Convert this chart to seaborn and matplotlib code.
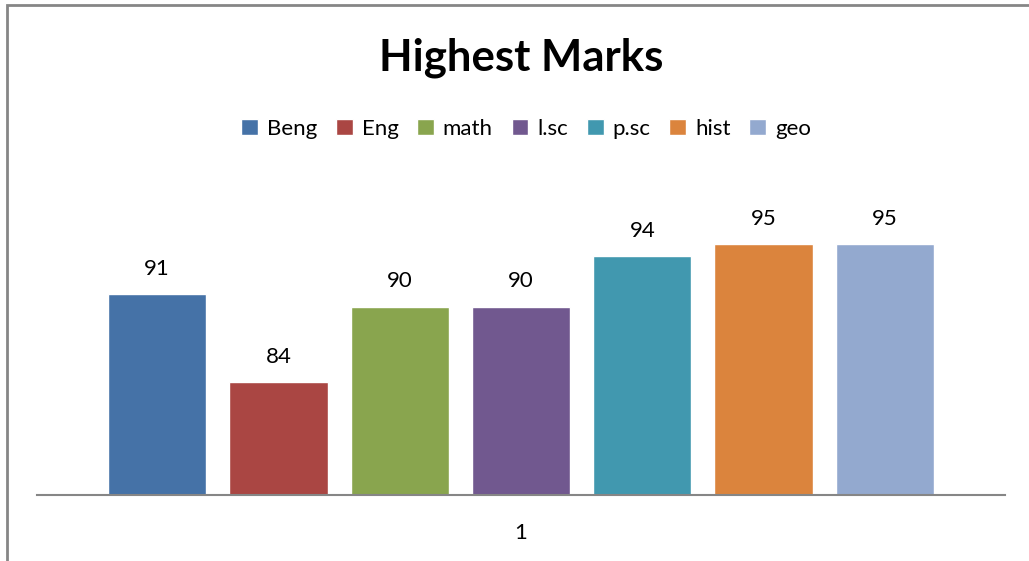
import matplotlib
matplotlib.use("Agg")
import matplotlib.pyplot as plt
from matplotlib.patches import Rectangle
import pandas as pd
import seaborn as sns

# 資料
subjects = ["Beng", "Eng", "math", "l.sc", "p.sc", "hist", "geo"]
marks = [91, 84, 90, 90, 94, 95, 95]
group = ["1"] * len(subjects)
colors = ["#4572A7", "#AA4643", "#89A54E", "#71588F", "#4198AF", "#DB843D", "#93A9CF"]

df = pd.DataFrame({"group": group, "subject": subjects, "marks": marks})

sns.set_style("white")
plt.rcParams["font.family"] = ["Lato", "DejaVu Sans"]
plt.rcParams["text.color"] = "#000000"

W, H = 1029, 561
fig = plt.figure(figsize=(W / 100, H / 100), dpi=100)
ax = fig.add_axes([37 / W, 1 - 495 / H, (1005 - 37) / W, (495 - 181) / H])

sns.barplot(data=df, x="group", y="marks", hue="subject", hue_order=subjects,
            palette=colors, width=0.877, gap=0.19, saturation=1, ax=ax)

ax.set_ylim(75, 100)
ax.set_xlim(-0.5, 0.5)

for c in ax.containers:
    ax.bar_label(c, padding=11, fontsize=16, color="#000000")

# 軸線設定
for s in ["top", "right", "left"]:
    ax.spines[s].set_visible(False)
ax.spines["bottom"].set_color("#868686")
ax.spines["bottom"].set_linewidth(1.5)
ax.set_yticks([])
ax.set_xlabel("")
ax.set_ylabel("")
ax.tick_params(axis="x", length=0, pad=20, labelsize=16, colors="#000000")

# 圖例
handles, labels = ax.get_legend_handles_labels()
ax.get_legend().remove()
fig.legend(handles, labels, loc="center", bbox_to_anchor=(526 / W, 1 - 129 / H),
           ncol=7, frameon=False, fontsize=16, handlelength=0.75, handleheight=0.75,
           handletextpad=0.4, columnspacing=0.85, labelcolor="#000000")

fig.text(521 / W, 1 - 58 / H, "Highest Marks", ha="center", va="center",
         fontsize=31.5, fontweight="bold", color="#000000")

# 外框
fig.add_artist(Rectangle((7 / W, -0.1), 1.2, 1.1 - 5 / H, transform=fig.transFigure,
                         fill=False, edgecolor="#868686", lw=2))

fig.savefig("out.png", dpi=100)
